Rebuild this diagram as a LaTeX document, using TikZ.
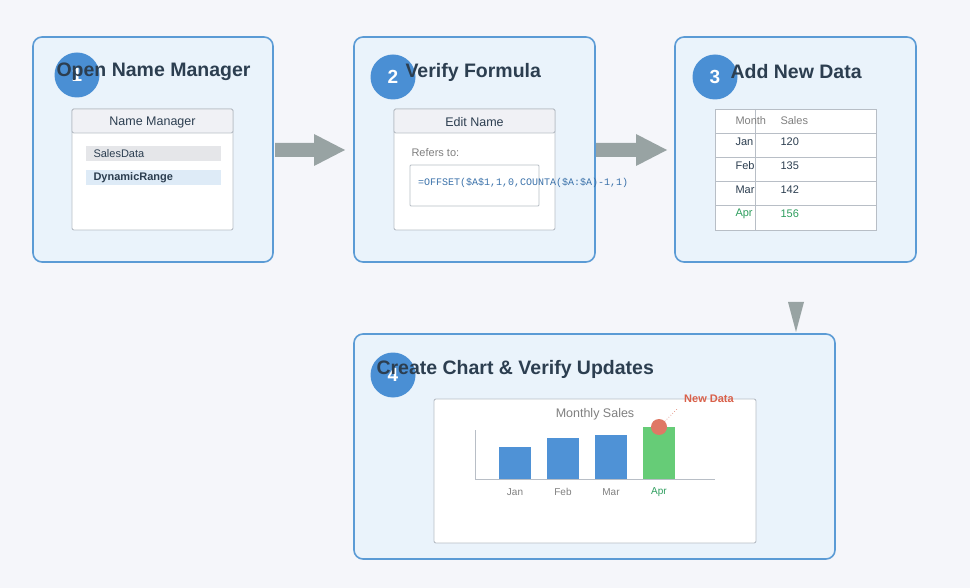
\documentclass[tikz,border=0pt]{standalone}
\usepackage{fontspec}
\setmainfont{Liberation Sans}
\setmonofont{Liberation Mono}
\usetikzlibrary{positioning,shapes.arrows}
\definecolor{bgc}{HTML}{F5F6FA}
\definecolor{panelc}{HTML}{EAF3FB}
\definecolor{edgec}{HTML}{5B9BD5}
\definecolor{stepc}{HTML}{4A8FD4}
\definecolor{titlec}{HTML}{2C3E50}
\definecolor{winc}{HTML}{B8BEC6}
\definecolor{headc}{HTML}{F0F1F5}
\definecolor{barc}{HTML}{4F92D6}
\definecolor{newc}{HTML}{66CC77}
\definecolor{aprc}{HTML}{2E9E5E}
\definecolor{redc}{HTML}{D9604A}
\definecolor{arrc}{HTML}{98A3A3}
\tikzset{
  panel/.style={draw=edgec,line width=1.6pt,fill=panelc,rounded corners=9pt},
  stepdot/.style={circle,fill=stepc,minimum size=45pt,inner sep=0pt,text=white,font=\bfseries\fontsize{19}{19}\selectfont},
  title/.style={anchor=west,text=titlec,font=\bfseries\fontsize{19.5}{20}\selectfont},
  win/.style={draw=winc,line width=0.9pt,fill=white,rounded corners=2pt},
  txt/.style={font=\fontsize{11}{12}\selectfont,text=titlec},
  blockarrow/.style={fill=arrc}
}
\begin{document}
\begin{tikzpicture}[x=1pt,y=-1pt]
  \fill[bgc] (0,0) rectangle (970,588);
  \useasboundingbox (0,0) rectangle (970,588);
  % panels
  \draw[panel] (33,37) rectangle (273,262);
  \draw[panel] (354,37) rectangle (595,262);
  \draw[panel] (675,37) rectangle (916,262);
  \draw[panel] (354,334) rectangle (835,559);
  % step markers and titles
  \node[stepdot] (s1) at (77,75) {1};
  \node[title] (t1) at (53,72) {Open Name Manager};
  \node[stepdot] (s2) at (393,77) {2};
  \node[title] (t2) at (402,72) {Verify Formula};
  \node[stepdot] (s3) at (715,77) {3};
  \node[title] (t3) at (727,72) {Add New Data};
  \node[stepdot] (s4) at (393,375) {4};
  \node[title] (t4) at (373,369) {Create Chart \& Verify Updates};
  % block arrows
  \fill[blockarrow] (275,143) -- (314,143) -- (314,134) -- (345,150) -- (314,166) -- (314,157) -- (275,157) -- cycle;
  \fill[blockarrow] (596,143) -- (636,143) -- (636,134) -- (667,150) -- (636,166) -- (636,157) -- (596,157) -- cycle;
  \fill[blockarrow] (788,302) -- (804,302) -- (796,332) -- cycle;
  % step 1 window
  \draw[win] (72,109) rectangle (233,230);
  \draw[win,fill=headc] (72,109) rectangle (233,133);
  \node[txt,font=\fontsize{12.5}{14}\selectfont] (h1) at (152.5,122) {Name Manager};
  \fill[headc!90!gray] (86,146) rectangle (221,161);
  \node[txt,anchor=west] (n1) at (90,153.5) {SalesData};
  \fill[edgec!20] (86,170) rectangle (221,185);
  \node[txt,anchor=west,font=\bfseries\fontsize{11}{12}\selectfont] (n2) at (90,177.5) {DynamicRange};
  % step 2 window
  \draw[win] (394,109) rectangle (555,230);
  \draw[win,fill=headc] (394,109) rectangle (555,133);
  \node[txt,font=\fontsize{12.5}{14}\selectfont] (h2) at (474.5,122) {Edit Name};
  \node[txt,anchor=west,text=gray] (r2) at (408,153) {Refers to:};
  \draw[win,rounded corners=1pt] (410,165) rectangle (539,206);
  \node[anchor=west,text=stepc!80!black,font=\ttfamily\fontsize{10}{11}\selectfont,inner sep=0pt] (f2) at (418,183) {=OFFSET(\$A\$1,1,0,COUNTA(\$A:\$A)-1,1)};
  % step 3 table
  \draw[win,rounded corners=0pt] (715,109) rectangle (876,230);
  \foreach \yy in {133,157,181,205} \draw[winc,line width=0.6pt] (715,\yy) -- (876,\yy);
  \draw[winc,line width=0.6pt] (755,109) -- (755,230);
  \node[txt,anchor=west,text=gray] (m0) at (732,121) {Month};
  \node[txt,anchor=west,text=gray] (v0) at (777,121) {Sales};
  \foreach \mm/\vv/\yy in {Jan/120/142,Feb/135/166,Mar/142/190}{
    \node[txt,anchor=west] (m\mm) at (732,\yy) {\mm};
    \node[txt,anchor=west] (v\mm) at (777,\yy) {\vv};
  }
  \node[txt,anchor=west,text=aprc] (mApr) at (732,214) {Apr};
  \node[txt,anchor=west,text=aprc] (vApr) at (777,214) {156};
  % step 4 chart
  \draw[win] (434,399) rectangle (756,543);
  \node[txt,text=gray,font=\fontsize{12.5}{14}\selectfont] (ct) at (595,414) {Monthly Sales};
  \draw[winc,line width=0.8pt] (475,430) -- (475,479) -- (715,479);
  \fill[barc] (499,447) rectangle (531,479);
  \fill[barc] (547,438) rectangle (579,479);
  \fill[barc] (595,435) rectangle (627,479);
  \fill[newc] (643,427) rectangle (675,479);
  \foreach \mm/\xx in {Jan/515,Feb/563,Mar/611}
    \node[txt,text=gray,font=\fontsize{10}{11}\selectfont] (l\mm) at (\xx,492) {\mm};
  \node[txt,text=aprc,font=\fontsize{10}{11}\selectfont] (lApr) at (659,492) {Apr};
  \node[circle,fill=redc!85,minimum size=16pt,inner sep=0pt] (dot) at (659,427) {};
  \node[text=redc,font=\bfseries\fontsize{11}{12}\selectfont] (nd) at (709,399) {New Data};
  \coordinate (tip) at (677,409);
  \draw[redc!70,dotted,line width=0.7pt] (dot) -- (tip);
\end{tikzpicture}
\end{document}
